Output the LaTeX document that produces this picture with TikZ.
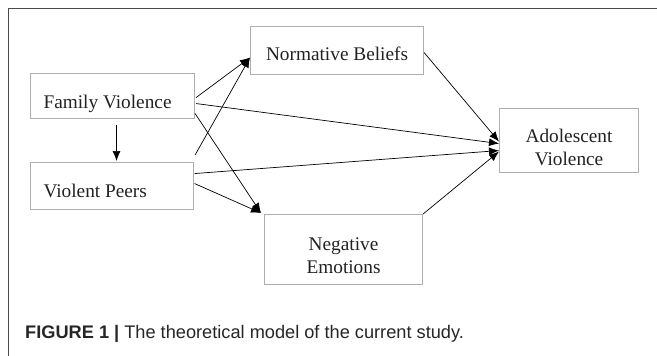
\documentclass[tikz,border=0pt]{standalone}
\usepackage{fontspec}
\setmainfont{Liberation Serif}
\newfontfamily\capfont{Liberation Sans}
\usetikzlibrary{arrows.meta,calc}
\definecolor{boxgray}{HTML}{AEAEAE}
\definecolor{framegray}{HTML}{4A4A4A}
\definecolor{txtcol}{HTML}{222222}
\tikzset{
  box/.style={draw=boxgray, line width=1.1pt, rectangle, anchor=north west, inner ysep=0pt,
    text=txtcol, font=\fontsize{19.3}{23.3}\selectfont},
  conn/.style={draw=black, line width=0.7pt, -{Latex[length=10pt,width=8pt]}},
}
\begin{document}
\begin{tikzpicture}[x=1pt,y=-1pt]
\useasboundingbox (0,0) rectangle (657,356);
\draw[framegray, line width=1.5pt] (8.5,357) -- (8.5,8.5) -- (658,8.5);

\node[box, minimum height=45pt, text width=138pt, inner xsep=13pt, align=flush left,
  text height=27pt, text depth=2pt] (fv) at (30,73) {Family Violence};
\node[box, minimum height=47pt, text width=137pt, inner xsep=13pt, align=flush left,
  text height=25pt, text depth=2pt] (vp) at (30,162) {Violent Peers};
\node[box, minimum height=48pt, text width=173pt, inner xsep=0pt, align=flush center,
  text height=22pt, text depth=2pt] (nb) at (250,26) {Normative Beliefs};
\node[box, minimum height=64pt, text width=139pt, inner xsep=0pt, align=flush center,
  text height=23.5pt, text depth=20pt] (av) at (499,108) {Adolescent\\Violence};
\node[box, minimum height=70pt, text width=158pt, inner xsep=0pt, align=flush center,
  text height=22pt, text depth=20pt] (ne) at (264,214) {Negative\\Emotions};

\draw[conn] ($(fv.east)+(1,1.5)$) -- ($(nb.west)+(0,7)$);
\draw[conn] ($(vp.north east)+(1,-7)$) -- ($(nb.west)+(0,7)$);
\draw[conn] ($(fv.east)+(1,7.5)$) -- ($(av.west)+(0,3)$);
\draw[conn] ($(nb.east)+(0,2)$) -- ($(av.west)+(0,1)$);
\draw[conn] ($(vp.east)+(0.5,-12.5)$) -- ($(av.west)+(0,10)$);
\draw[conn] (ne.north east) -- ($(av.west)+(0,11)$);
\draw[conn] ($(fv.east)+(0,17.5)$) -- ($(ne.north west)+(-3,-1)$);
\draw[conn] ($(vp.east)+(0.5,-2.5)$) -- ($(ne.north west)+(-3,-1)$);
\draw[conn] ($(fv.south)+(4,6)$) -- ($(vp.north)+(4.5,-1)$);

\node[anchor=base west, inner sep=0pt, text=black!85, font=\capfont\fontsize{18.2}{20}\selectfont]
  (cap) at (25,338.3) {\textbf{FIGURE 1 |} The theoretical model of the current study.};
\end{tikzpicture}
\end{document}
